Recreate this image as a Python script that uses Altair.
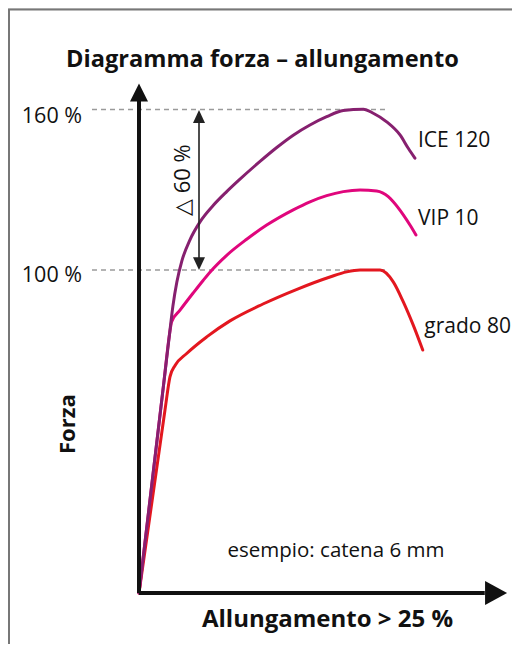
import altair as alt
import pandas as pd

# ---- data (x: elongation %, y: force % of grade 80 max) ----
red_x = [0, 2.30, 2.74, 3.19, 4.22, 5.99, 8.05, 10.97, 13.98, 16.90, 18.38, 19.56, 21.33, 22.50, 23.39, 24.27, 25.11]
red_y = [-20.7, 47.7, 60.1, 64.3, 68.8, 75.0, 81.0, 87.3, 92.8, 97.4, 99.3, 100.0, 100.0, 95.6, 88.1, 79.4, 70.1]

vip_x = [0, 2.20, 2.70, 2.89, 3.63, 4.81, 5.69, 6.28, 7.76, 9.53, 11.30, 13.65, 15.13, 16.61, 18.08, 19.56, 21.03, 22.06, 22.50, 23.39, 23.98, 24.51]
vip_y = [-20.7, 58.0, 76.0, 80.7, 85.0, 91.5, 96.2, 99.2, 105.5, 111.5, 116.8, 122.5, 125.5, 127.8, 129.3, 129.9, 129.5, 127.4, 125.5, 120.6, 116.8, 113.1]

ice_x = [0, 2.20, 2.70, 3.00, 3.35, 3.80, 4.51, 5.40, 6.58, 7.76, 8.79, 10.71, 12.19, 13.65, 15.13, 16.61, 18.08, 19.85, 20.73, 21.92, 23.10, 23.83, 24.42]
ice_y = [-20.7, 58.0, 76.0, 86.5, 95.5, 103.5, 111.3, 118.0, 124.2, 129.3, 133.4, 140.6, 145.8, 150.4, 154.2, 157.3, 159.6, 160.1, 158.6, 155.4, 150.5, 145.5, 141.8]

series_names = ["grado 80", "VIP 10", "ICE 120"]
series_colors = ["#e3171f", "#e0067c", "#86206f"]

ref_levels = [100, 160]
ref_labels = ["100 %", "160 %"]

FONT = "Open Sans"

rows = []
for name, xs, ys in [("grado 80", red_x, red_y), ("VIP 10", vip_x, vip_y), ("ICE 120", ice_x, ice_y)]:
    for i, (a, b) in enumerate(zip(xs, ys)):
        rows.append({"series": name, "x": a, "y": b, "i": i})
curves_df = pd.DataFrame(rows)

X = alt.Scale(domain=[0, 32.5], range=[131, 498.25])
Y = alt.Scale(domain=[-20.7, 169], range=[585, 77.4])

base_x = lambda f="x": alt.X(f"{f}:Q", scale=X, axis=None)
base_y = lambda f="y": alt.Y(f"{f}:Q", scale=Y, axis=None)

curves = alt.Chart(curves_df).mark_line(strokeWidth=3, interpolate="monotone", strokeCap="round", strokeJoin="round").encode(
    x=base_x(), y=base_y(), order="i:Q",
    color=alt.Color("series:N", scale=alt.Scale(domain=series_names, range=series_colors), legend=None),
)

# axes (arrows)
axes_df = pd.DataFrame({"x": [0, 0], "y": [-20.7, -20.7], "x2": [30.6, 0], "y2": [-20.7, 163.5]})
axes = alt.Chart(axes_df).mark_rule(strokeWidth=4, color="#111").encode(
    x=base_x(), y=base_y(), x2="x2:Q", y2="y2:Q")

head_right = alt.Chart(pd.DataFrame({"x": [31.6], "y": [-20.7]})).mark_point(
    shape="M-1,-1.1L1,0L-1,1.1Z", size=484, filled=True, opacity=1, color="#111", strokeWidth=0
).encode(x=base_x(), y=base_y())
head_up = alt.Chart(pd.DataFrame({"x": [0], "y": [166.3]})).mark_point(
    shape="M-1,1L0,-1L1,1Z", size=324, filled=True, opacity=1, color="#111", strokeWidth=0
).encode(x=base_x(), y=base_y())

# dashed reference levels
dash_df = pd.DataFrame({"y": ref_levels, "x": [-4.16, -4.16], "x2": [21.95, 21.95]})
dashes = alt.Chart(dash_df).mark_rule(strokeWidth=1.5, color="#9a9a9a", strokeDash=[5, 4]).encode(
    x=base_x(), x2="x2:Q", y=base_y())

# delta arrow
delta_line = alt.Chart(pd.DataFrame({"x": [5.31], "y": [103], "y2": [157]})).mark_rule(
    strokeWidth=1.6, color="#222").encode(x=base_x(), y=base_y(), y2="y2:Q")
delta_up = alt.Chart(pd.DataFrame({"x": [5.31], "y": [157.4]})).mark_point(
    shape="M-1,1.08L0,-1.08L1,1.08Z", size=144, filled=True, opacity=1, color="#222", strokeWidth=0
).encode(x=base_x(), y=base_y())
delta_dn = alt.Chart(pd.DataFrame({"x": [5.31], "y": [102.4]})).mark_point(
    shape="M-1,-1.08L0,1.08L1,-1.08Z", size=144, filled=True, opacity=1, color="#222", strokeWidth=0
).encode(x=base_x(), y=base_y())

# texts
lvl_df = pd.DataFrame({"x": [-5.04, -5.04], "y": [95.5, 154.8], "t": ref_labels})
lvl_txt = alt.Chart(lvl_df).mark_text(align="right", baseline="alphabetic", font=FONT, fontSize=21.5, color="#111").encode(
    x=base_x(), y=base_y(), text="t:N")

lab_df = pd.DataFrame({"x": [24.69, 24.69, 25.25], "y": [146.0, 116.8, 76.4], "t": ["ICE 120", "VIP 10", "grado 80"]})
lab_txt = alt.Chart(lab_df).mark_text(align="left", baseline="alphabetic", font=FONT, fontSize=21, color="#111").encode(
    x=base_x(), y=base_y(), text="t:N")

note_txt = alt.Chart(pd.DataFrame({"x": [17.43], "y": [-7.4], "t": ["esempio: catena 6 mm"]})).mark_text(
    align="center", baseline="alphabetic", font=FONT, fontSize=20.5, color="#111").encode(
    x=base_x(), y=base_y(), text="t:N")

title_txt = alt.Chart(pd.DataFrame({"x": [10.93], "y": [176.0], "t": ["Diagramma forza – allungamento"]})).mark_text(
    align="center", baseline="alphabetic", font=FONT, fontSize=23.6, fontWeight="bold", color="#111").encode(
    x=base_x(), y=base_y(), text="t:N")

xlab_txt = alt.Chart(pd.DataFrame({"x": [16.68], "y": [-33.5], "t": ["Allungamento > 25 %"]})).mark_text(
    align="center", baseline="alphabetic", font=FONT, fontSize=24, fontWeight="bold", color="#111").encode(
    x=base_x(), y=base_y(), text="t:N")

ylab_txt = alt.Chart(pd.DataFrame({"x": [-5.66], "y": [42.4], "t": ["Forza"]})).mark_text(
    align="center", baseline="alphabetic", angle=270, font=FONT, fontSize=22, fontWeight="bold", color="#111").encode(
    x=base_x(), y=base_y(), text="t:N")

delta_txt = alt.Chart(pd.DataFrame({"x": [4.51], "y": [133.6], "t": ["△ 60 %"]})).mark_text(
    align="center", baseline="alphabetic", angle=270, font=FONT, fontSize=22, color="#111").encode(
    x=base_x(), y=base_y(), text="t:N")

# frame (left and top edges of the box)
frame = alt.Chart(pd.DataFrame({"k": [0]})).mark_rule(color="#777", strokeWidth=2).encode(
    x=alt.value(1), y=alt.value(1.5), y2=alt.value(636))
frame_top = alt.Chart(pd.DataFrame({"k": [0]})).mark_rule(color="#777", strokeWidth=2).encode(
    x=alt.value(0), x2=alt.value(504), y=alt.value(1.5))

chart = alt.layer(
    frame, frame_top, dashes, curves, axes, head_right, head_up,
    delta_line, delta_up, delta_dn,
    lvl_txt, lab_txt, note_txt, title_txt, xlab_txt, ylab_txt, delta_txt,
).properties(
    width=504, height=636, autosize=alt.AutoSizeParams(type="none"), padding=0
).configure_view(stroke=None).configure(background="white")

chart.save("out.html", embed_options={"renderer": "svg", "actions": False})
